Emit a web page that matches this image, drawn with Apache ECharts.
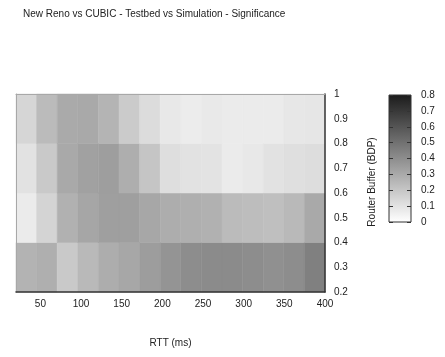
<!DOCTYPE html>
<html>
<head>
<meta charset="utf-8">
<script src="https://cdn.jsdelivr.net/npm/echarts@6/dist/echarts.min.js"></script>
<style>
  html, body { margin: 0; padding: 0; background: #fff; }
  #chart { width: 445px; height: 357px; }
</style>
</head>
<body>
<div id="chart"></div>
<script>
// RTT range covered by the grid (ms) and labelled RTT values
const rttMin = 20;
const rttMax = 400;
const rttTicks = [50, 100, 150, 200, 250, 300, 350, 400];

// Router buffer bins (fraction of BDP): lower/upper edges
const bufferLow = [0.2, 0.4, 0.6, 0.8];
const bufferHigh = [0.4, 0.6, 0.8, 1.0];

// Significance per buffer bin, one value per RTT bin (left to right)
const sigBuf02 = [0.269, 0.283, 0.192, 0.248, 0.290, 0.311, 0.346, 0.377, 0.402, 0.409, 0.409, 0.402, 0.391, 0.402, 0.447];
const sigBuf04 = [0.070, 0.150, 0.276, 0.314, 0.339, 0.339, 0.311, 0.290, 0.283, 0.276, 0.241, 0.234, 0.224, 0.248, 0.304];
const sigBuf06 = [0.101, 0.192, 0.304, 0.332, 0.342, 0.286, 0.206, 0.115, 0.101, 0.098, 0.070, 0.080, 0.101, 0.112, 0.119];
const sigBuf08 = [0.143, 0.241, 0.300, 0.304, 0.265, 0.182, 0.122, 0.080, 0.066, 0.077, 0.070, 0.070, 0.070, 0.084, 0.087];

// Colour scale range and gray palette (low -> high)
const scaleMin = 0;
const scaleMax = 0.8;
const palette = ['#ffffff', '#1c1c1c'];

const sigRows = [sigBuf02, sigBuf04, sigBuf06, sigBuf08];
const nCols = sigBuf02.length;
const rttStep = (rttMax - rttMin) / nCols;

// [rttFrom, rttTo, bufFrom, bufTo, value]
const cells = [];
sigRows.forEach((row, r) => {
  row.forEach((v, c) => {
    cells.push([rttMin + c * rttStep, rttMin + (c + 1) * rttStep, bufferLow[r], bufferHigh[r], v]);
  });
});

const FONT = "'Liberation Sans', Arial, Helvetica, sans-serif";
const TXT = '#222';
const DARK = '#333';
const LIGHT = '#a8a8a8';

const chart = echarts.init(document.getElementById('chart'), null, { renderer: 'canvas' });

chart.setOption({
  animation: false,
  backgroundColor: '#fff',
  textStyle: { fontFamily: FONT, color: TXT },
  title: {
    text: 'New Reno vs CUBIC - Testbed vs Simulation - Significance',
    left: 23, top: 9, padding: 0,
    textStyle: { fontFamily: FONT, fontSize: 10, fontWeight: 'normal', color: TXT }
  },
  grid: [
    { left: 16, top: 94, width: 309, height: 198 },
    { left: 389, top: 95, width: 22, height: 127, show: true, z: 10,
      borderColor: DARK, borderWidth: 1, backgroundColor: 'transparent' }
  ],
  visualMap: {
    type: 'continuous',
    seriesIndex: 0,
    dimension: 4,
    min: scaleMin, max: scaleMax,
    show: false,
    inRange: { color: palette }
  },
  xAxis: [
    {
      gridIndex: 0, type: 'value', position: 'bottom',
      min: rttMin, max: rttMax, z: 5,
      name: 'RTT (ms)', nameLocation: 'middle', nameGap: 46,
      nameTextStyle: { fontFamily: FONT, fontSize: 10, color: TXT },
      axisLine: { show: true, onZero: false, lineStyle: { color: DARK, width: 1.5 } },
      axisTick: { show: false },
      splitLine: { show: false },
      axisLabel: { customValues: rttTicks, margin: 7, fontFamily: FONT, fontSize: 10, color: TXT }
    },
    {
      gridIndex: 0, type: 'value', position: 'top',
      min: rttMin, max: rttMax, z: 5,
      axisLine: { show: true, onZero: false, lineStyle: { color: LIGHT, width: 1 } },
      axisTick: { show: false }, axisLabel: { show: false }, splitLine: { show: false }
    },
    {
      gridIndex: 1, type: 'value', min: 0, max: 1, show: false,
      axisLine: { onZero: false }
    }
  ],
  yAxis: [
    {
      gridIndex: 0, type: 'value', position: 'right',
      min: 0.2, max: 1, interval: 0.1, z: 5,
      name: 'Router Buffer (BDP)', nameLocation: 'middle', nameGap: 42, nameRotate: 90,
      nameTextStyle: { fontFamily: FONT, fontSize: 10, color: TXT, padding: [0, 0, 0, 22] },
      axisLine: { show: true, onZero: false, lineStyle: { color: DARK, width: 1.5 } },
      axisTick: { show: false },
      splitLine: { show: false },
      axisLabel: { margin: 9, fontFamily: FONT, fontSize: 10, color: TXT }
    },
    {
      gridIndex: 0, type: 'value', position: 'left',
      min: 0.2, max: 1, interval: 0.1, z: 5,
      axisLine: { show: true, onZero: false, lineStyle: { color: LIGHT, width: 1 } },
      axisTick: { show: false }, axisLabel: { show: false }, splitLine: { show: false }
    },
    {
      gridIndex: 1, type: 'value', position: 'right',
      min: scaleMin, max: scaleMax, interval: 0.1, z: 10,
      axisLine: { show: false, onZero: false },
      axisTick: { show: true, inside: true, length: 4, lineStyle: { color: DARK } },
      splitLine: { show: false },
      axisLabel: { margin: 10, fontFamily: FONT, fontSize: 10, color: TXT }
    },
    {
      gridIndex: 1, type: 'value', position: 'left',
      min: scaleMin, max: scaleMax, interval: 0.1, z: 10,
      axisLine: { show: false, onZero: false },
      axisTick: { show: true, inside: true, length: 4, lineStyle: { color: DARK } },
      splitLine: { show: false },
      axisLabel: { show: false }
    }
  ],
  series: [
    {
      type: 'custom',
      xAxisIndex: 0, yAxisIndex: 0,
      data: cells,
      encode: { x: [0, 1], y: [2, 3] },
      renderItem: function (params, api) {
        const p0 = api.coord([api.value(0), api.value(3)]);
        const p1 = api.coord([api.value(1), api.value(2)]);
        return {
          type: 'rect',
          shape: { x: p0[0], y: p0[1], width: p1[0] - p0[0], height: p1[1] - p0[1] },
          style: { fill: api.visual('color'), stroke: api.visual('color'), lineWidth: 0.5 }
        };
      }
    },
    {
      // colour key: one gradient bar spanning the scale range
      type: 'custom',
      xAxisIndex: 2, yAxisIndex: 2,
      z: 1,
      data: [[0, 1, scaleMin, scaleMax]],
      renderItem: function (params, api) {
        const p0 = api.coord([api.value(0), api.value(3)]);
        const p1 = api.coord([api.value(1), api.value(2)]);
        return {
          type: 'rect',
          shape: { x: p0[0], y: p0[1], width: p1[0] - p0[0], height: p1[1] - p0[1] },
          style: {
            fill: new echarts.graphic.LinearGradient(0, 1, 0, 0, [
              { offset: 0, color: palette[0] },
              { offset: 1, color: palette[1] }
            ])
          }
        };
      }
    }
  ]
});
</script>
</body>
</html>
